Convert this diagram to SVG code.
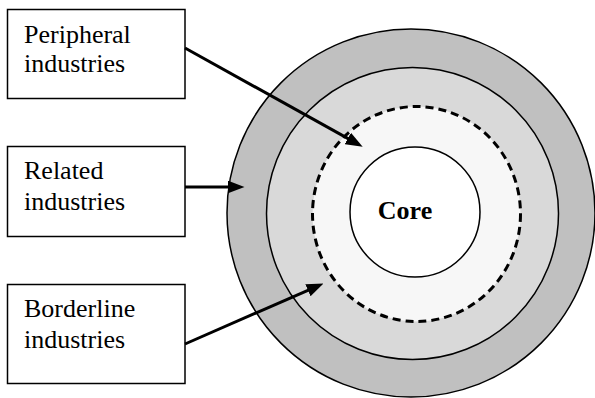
<svg xmlns="http://www.w3.org/2000/svg" width="595" height="398" viewBox="0 0 595 398">
<style>
.box{fill:#fff;stroke:#000;stroke-width:1.5}
.lbl{font-family:"Liberation Serif","Times New Roman",serif;font-size:26px;fill:#000}
.ring{stroke:#000;stroke-width:1.5}
.conn{stroke:#000;stroke-width:3;fill:none;marker-end:url(#ah)}
</style>
<defs>
<marker id="ah" markerUnits="userSpaceOnUse" markerWidth="17" markerHeight="13" refX="5" refY="6.5" orient="auto">
<path d="M0,0 L17,6.5 L0,13 z" fill="#000"/>
</marker>
</defs>
<g id="rings">
<circle id="outer" class="ring" cx="411" cy="213" r="184" fill="#c0c0c0"/>
<circle id="related" class="ring" cx="412.5" cy="213.5" r="146" fill="#d9d9d9"/>
<ellipse id="borderline" cx="416.5" cy="214" rx="104" ry="107.5" fill="#f7f7f7" stroke="#000" stroke-width="3" stroke-dasharray="8,5"/>
<g id="core">
<circle class="ring" cx="415" cy="212" r="65" fill="#fff"/>
<text x="405" y="218.5" text-anchor="middle" class="lbl" font-weight="bold">Core</text>
</g>
</g>
<g id="peripheral">
<rect class="box" x="7.5" y="9.5" width="177.5" height="89"/>
<text class="lbl" x="24" y="42.5">Peripheral</text>
<text class="lbl" x="24" y="72">industries</text>
</g>
<g id="related-box">
<rect class="box" x="7.5" y="146.5" width="177.5" height="90"/>
<text class="lbl" x="24" y="178.5">Related</text>
<text class="lbl" x="24" y="210">industries</text>
</g>
<g id="borderline-box">
<rect class="box" x="7.5" y="284.5" width="177.5" height="99"/>
<text class="lbl" x="24" y="316.5">Borderline</text>
<text class="lbl" x="24" y="347.5">industries</text>
</g>
<g id="connectors">
<line class="conn" x1="185" y1="48" x2="352.2" y2="140.9"/>
<line class="conn" x1="185" y1="187" x2="232.5" y2="187"/>
<line class="conn" x1="185" y1="344" x2="312.5" y2="288.3"/>
</g>
</svg>
